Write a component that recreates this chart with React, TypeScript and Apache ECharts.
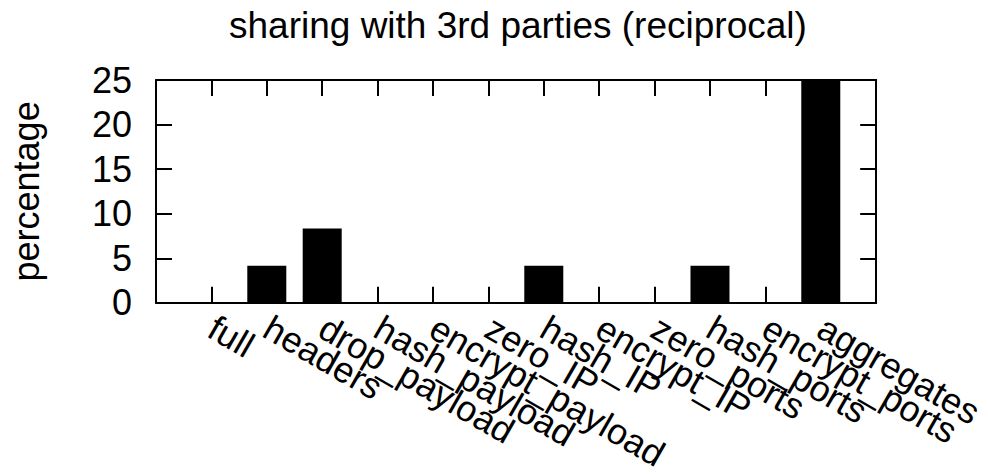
import React, { useEffect, useRef } from "react";
import * as echarts from "echarts";

const categories = [
  "full",
  "headers",
  "drop_payload",
  "hash_payload",
  "encrypt_payload",
  "zero_IP",
  "hash_IP",
  "encrypt_IP",
  "zero_ports",
  "hash_ports",
  "encrypt_ports",
  "aggregates",
];
const values = [0, 4.17, 8.33, 0, 0, 0, 4.17, 0, 0, 4.17, 0, 25];
const yTicks = [0, 5, 10, 15, 20, 25];
const titleText = "sharing with 3rd parties (reciprocal)";
const yName = "percentage";

const FONT = "'Liberation Sans', Arial, Helvetica, sans-serif";

export default function App() {
  const ref = useRef<HTMLDivElement>(null);
  useEffect(() => {
    if (!ref.current) return;
    const chart = echarts.init(ref.current, undefined, { renderer: "svg" });
    const lineStyle = { color: "#000", width: 2 };
    const tick = { show: true, inside: true, length: 16, lineStyle };
    chart.setOption({
      animation: false,
      backgroundColor: "#fff",
      title: {
        text: titleText,
        left: 224,
        top: 2,
        textStyle: { fontFamily: FONT, fontSize: 37, fontWeight: "normal", color: "#000" },
      },
      grid: { left: 151, right: 110, top: 80, bottom: 171, containLabel: false },
      xAxis: [
        {
          type: "value",
          min: -1,
          max: 12,
          interval: 1,
          position: "bottom",
          axisLine: { show: true, onZero: false, lineStyle },
          axisTick: tick,
          splitLine: { show: false },
          axisLabel: {
            show: true,
            rotate: -30,
            margin: 22,
            fontFamily: FONT,
            fontSize: 36,
            color: "#000",
            showMinLabel: true,
            showMaxLabel: true,
            formatter: (v: number) => (v >= 0 && v < categories.length ? categories[v] : ""),
          },
        },
        {
          type: "value",
          min: -1,
          max: 12,
          interval: 1,
          position: "top",
          axisLine: { show: true, onZero: false, lineStyle },
          axisTick: tick,
          splitLine: { show: false },
          axisLabel: { show: false },
        },
      ],
      yAxis: [
        {
          type: "value",
          min: yTicks[0],
          max: yTicks[yTicks.length - 1],
          interval: 5,
          position: "left",
          name: yName,
          nameLocation: "middle",
          nameGap: 112,
          nameTextStyle: { fontFamily: FONT, fontSize: 36, color: "#000" },
          axisLine: { show: true, onZero: false, lineStyle },
          axisTick: tick,
          splitLine: { show: false },
          axisLabel: { fontFamily: FONT, fontSize: 36, color: "#000", margin: 24 },
        },
        {
          type: "value",
          min: yTicks[0],
          max: yTicks[yTicks.length - 1],
          interval: 5,
          position: "right",
          axisLine: { show: true, onZero: false, lineStyle },
          axisTick: tick,
          splitLine: { show: false },
          axisLabel: { show: false },
        },
      ],
      series: [
        {
          type: "bar",
          xAxisIndex: 0,
          yAxisIndex: 0,
          barWidth: 39,
          itemStyle: { color: "#000" },
          data: values.map((v, i) => [i, v]),
        },
      ],
    });
    return () => chart.dispose();
  }, []);
  return (
    <div
      ref={ref}
      style={{ position: "fixed", left: 0, top: 0, width: 988, height: 474 }}
    />
  );
}
